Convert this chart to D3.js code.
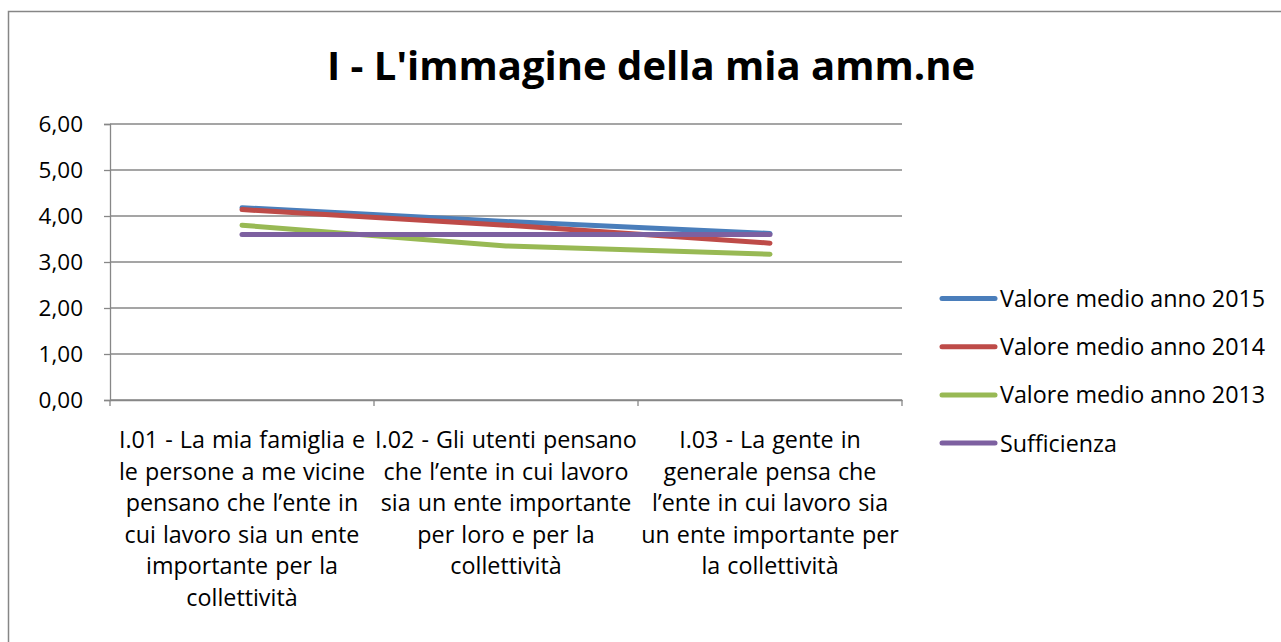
<!DOCTYPE html>
<html><head><meta charset="utf-8">
<script src="https://cdn.jsdelivr.net/npm/d3@7"></script>
<style>
html,body{margin:0;padding:0;background:#fff;}
svg{display:block;}
text{font-family:"Open Sans",Lato,sans-serif;fill:#000;}
</style></head>
<body>
<svg id="chart" width="1281" height="642"></svg>
<script>
const title = "I - L'immagine della mia amm.ne";
const categories = ["I.01", "I.02", "I.03"];
const categoryLabels = [
  ["I.01 - La mia famiglia e", "le persone a me vicine", "pensano che l\u2019ente in", "cui lavoro sia un ente", "importante per la", "collettivit\u00e0"],
  ["I.02 - Gli utenti pensano", "che l\u2019ente in cui lavoro", "sia un ente importante", "per loro e per la", "collettivit\u00e0"],
  ["I.03 - La gente in", "generale pensa che", "l\u2019ente in cui lavoro sia", "un ente importante per", "la collettivit\u00e0"]
];
const seriesNames = ["Valore medio anno 2015", "Valore medio anno 2014", "Valore medio anno 2013", "Sufficienza"];
const values2015 = [4.18, 3.88, 3.62];
const values2014 = [4.14, 3.80, 3.41];
const values2013 = [3.80, 3.35, 3.17];
const valuesSuff = [3.60, 3.60, 3.60];
const seriesColors = ["#4a7ebb", "#be4b48", "#98b954", "#7d60a0"];
const yTicks = [0, 1, 2, 3, 4, 5, 6];

const series = [values2015, values2014, values2013, valuesSuff];

const svg = d3.select("#chart");
const plot = {left: 110, right: 902, top: 124, bottom: 400};
const axisColor = "#878787";
const fs = 23.3;

// chart border
svg.append("rect").attr("x", 8.5).attr("y", 11.5).attr("width", 1300).attr("height", 700)
  .attr("fill", "none").attr("stroke", "#868686").attr("stroke-width", 1.5);

// title
svg.append("text").attr("x", 651).attr("y", 80).attr("text-anchor", "middle")
  .style("font-size", "40px").style("font-weight", "bold").text(title);

const x = d3.scaleBand().domain(categories).range([plot.left, plot.right]).padding(0);
const y = d3.scaleLinear().domain([0, 6]).range([plot.bottom, plot.top]);
const fmt = v => d3.format(".2f")(v).replace(".", ",");

// gridlines
svg.append("g").selectAll("line").data(yTicks).join("line")
  .attr("x1", plot.left).attr("x2", plot.right)
  .attr("y1", d => y(d)).attr("y2", d => y(d))
  .attr("stroke", axisColor).attr("stroke-width", 1.3);

// y axis
const yAxis = svg.append("g").attr("transform", `translate(${plot.left},0)`)
  .call(d3.axisLeft(y).tickValues(yTicks).tickFormat(fmt).tickSize(6).tickPadding(21));
yAxis.select(".domain").attr("stroke", axisColor).attr("stroke-width", 1.3);
yAxis.selectAll(".tick line").attr("stroke", axisColor).attr("stroke-width", 1.3);
yAxis.selectAll(".tick text").style("font-size", "22.5px").style("font-family", "Open Sans").attr("fill", "#000");

// x axis
const xAxis = svg.append("g").attr("transform", `translate(0,${plot.bottom})`)
  .call(d3.axisBottom(x).tickSize(0).tickFormat(""));
xAxis.select(".domain").attr("stroke", axisColor).attr("stroke-width", 1.3);
const tickPos = [plot.left].concat(categories.map(c => x(c) + x.bandwidth()));
svg.append("g").selectAll("line").data(tickPos).join("line")
  .attr("x1", d => d).attr("x2", d => d).attr("y1", plot.bottom).attr("y2", plot.bottom + 6)
  .attr("stroke", axisColor).attr("stroke-width", 1.3);

// category labels
const lab = svg.append("g");
categories.forEach((c, i) => {
  const t = lab.append("text").attr("text-anchor", "middle").style("font-size", fs + "px")
    .style("word-spacing", "1px");
  categoryLabels[i].forEach((line, j) => {
    t.append("tspan").attr("x", x(c) + x.bandwidth() / 2).attr("y", 448 + j * 31.6).text(line);
  });
});

// lines
const lineGen = d3.line().x((d, i) => x(categories[i]) + x.bandwidth() / 2).y(d => y(d));
svg.append("g").selectAll("path").data(series).join("path")
  .attr("d", d => lineGen(d)).attr("fill", "none")
  .attr("stroke", (d, i) => seriesColors[i]).attr("stroke-width", 5)
  .attr("stroke-linecap", "round").attr("stroke-linejoin", "round");

// legend
const leg = svg.append("g");
seriesNames.forEach((n, i) => {
  const yy = 298.5 + i * 48.2;
  leg.append("line").attr("x1", 942).attr("x2", 995).attr("y1", yy).attr("y2", yy)
    .attr("stroke", seriesColors[i]).attr("stroke-width", 5).attr("stroke-linecap", "round");
  leg.append("text").attr("x", 1000).attr("y", yy + 8.5).style("font-size", fs + "px").text(n);
});
</script>
</body></html>
